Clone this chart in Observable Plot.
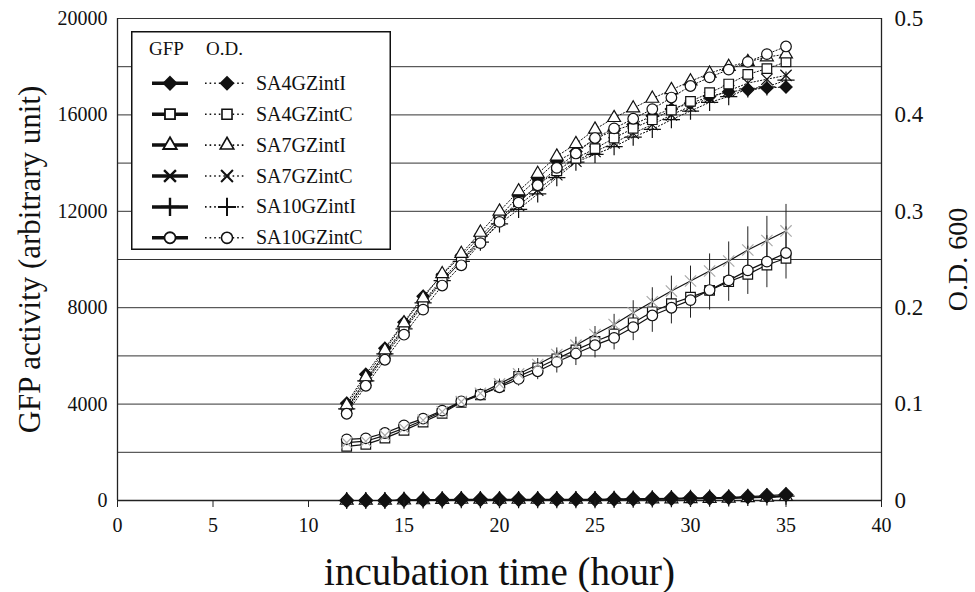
<!DOCTYPE html>
<html><head><meta charset="utf-8">
<script src="https://cdn.jsdelivr.net/npm/d3@7"></script>
<script src="https://cdn.jsdelivr.net/npm/@observablehq/plot@0.6"></script>
<style>
body{margin:0;background:#fff;}
#wrap{position:relative;width:975px;height:592px;font-family:"Liberation Serif",serif;}
#wrap svg text{font-family:"Liberation Serif",serif;}
#legend{position:absolute;left:131px;top:31px;}
</style></head><body><div id="wrap"></div>
<script>
const hours = [12,13,14,15,16,17,18,19,20,21,22,23,24,25,26,27,28,29,30,31,32,33,34,35];
const series = ["SA4GZintI","SA4GZintC","SA7GZintI","SA7GZintC","SA10GZintI","SA10GZintC"];

// GFP activity (arbitrary unit)
const gfp_SA4GZintI  = [0,0,0,20,30,40,50,50,50,50,50,50,50,50,60,70,80,90,100,110,130,160,200,240];
const gfp_SA4GZintC  = [2245,2330,2590,2910,3256,3617,4075,4380,4750,5150,5500,5880,6250,6600,6916,7373,7830,8164,8440,8718,9078,9384,9771,10050];
const gfp_SA7GZintI  = [0,0,0,10,20,30,40,40,40,40,40,40,40,40,40,50,60,60,70,80,90,110,130,160];
const gfp_SA7GZintC  = [2400,2460,2700,3000,3330,3680,4100,4450,4838,5252,5641,6056,6445,6888,7304,7790,8248,8690,9106,9522,9938,10395,10790,11185];
const gfp_SA10GZintI = [0,0,0,10,20,30,40,40,40,40,40,40,40,40,50,60,70,80,90,100,110,130,150,180];
const gfp_SA10GZintC = [2536,2578,2800,3118,3395,3728,4116,4393,4698,5044,5364,5750,6100,6445,6750,7193,7678,7997,8316,8732,9134,9550,9910,10270];

// GFP error (SD)
const err_SA7GZintC  = [80,80,100,100,120,140,160,180,200,220,250,275,330,330,420,500,580,620,620,710,790,960,1000,1100];
const err_SA10GZintC = [80,80,100,100,120,140,160,200,250,300,350,460,500,530,500,560,700,670,750,830,870,1000,1080,1080];

// O.D. 600
const od_SA4GZintI  = [0.101,0.131,0.158,0.185,0.212,0.234,0.254,0.274,0.294,0.316,0.334,0.352,0.362,0.375,0.384,0.390,0.399,0.406,0.412,0.419,0.424,0.426,0.428,0.429];
const od_SA4GZintC  = [0.093,0.122,0.150,0.176,0.203,0.227,0.248,0.270,0.292,0.310,0.327,0.342,0.355,0.365,0.376,0.386,0.395,0.405,0.414,0.423,0.432,0.442,0.448,0.455];
const od_SA7GZintI  = [0.099,0.128,0.156,0.184,0.210,0.235,0.256,0.278,0.300,0.321,0.339,0.357,0.370,0.385,0.397,0.407,0.417,0.426,0.435,0.443,0.450,0.455,0.460,0.463];
const od_SA7GZintC  = [0.096,0.125,0.153,0.180,0.206,0.230,0.250,0.271,0.291,0.306,0.322,0.338,0.352,0.362,0.371,0.381,0.390,0.400,0.409,0.418,0.425,0.433,0.437,0.441];
const od_SA10GZintI = [0.095,0.124,0.152,0.178,0.205,0.228,0.248,0.268,0.287,0.302,0.318,0.335,0.351,0.359,0.367,0.377,0.385,0.395,0.404,0.413,0.419,0.427,0.429,0.436];
const od_SA10GZintC = [0.090,0.119,0.146,0.172,0.198,0.223,0.244,0.267,0.289,0.309,0.327,0.345,0.360,0.376,0.386,0.396,0.406,0.418,0.430,0.439,0.447,0.455,0.463,0.471];

const xTicks = [0,5,10,15,20,25,30,35,40];
const leftTicks = [0,4000,8000,12000,16000,20000];
const rightTicks = [0,0.1,0.2,0.3,0.4,0.5];
const gridValues = [0,2000,4000,6000,8000,10000,12000,14000,16000,18000,20000];

const gfpMax = 20000, odMax = 0.5, k = gfpMax / odMax;
const FONT = '"Liberation Serif", serif';

const gfp = {SA4GZintI:gfp_SA4GZintI,SA4GZintC:gfp_SA4GZintC,SA7GZintI:gfp_SA7GZintI,SA7GZintC:gfp_SA7GZintC,SA10GZintI:gfp_SA10GZintI,SA10GZintC:gfp_SA10GZintC};
const od = {SA4GZintI:od_SA4GZintI,SA4GZintC:od_SA4GZintC,SA7GZintI:od_SA7GZintI,SA7GZintC:od_SA7GZintC,SA10GZintI:od_SA10GZintI,SA10GZintC:od_SA10GZintC};
const err = {SA7GZintC:err_SA7GZintC,SA10GZintC:err_SA10GZintC};

const sty = {
  SA4GZintI:{symbol:"diamond2", fill:"#111", stroke:"#111", r:5.5},
  SA4GZintC:{symbol:"square", fill:"#fff", stroke:"#111", r:5.4},
  SA7GZintI:{symbol:"triangle", fill:"#fff", stroke:"#111", r:4.8},
  SA7GZintC:{symbol:"times", fill:"none", stroke:"#111", r:5.2},
  SA10GZintI:{symbol:"plus", fill:"none", stroke:"#111", r:5.6},
  SA10GZintC:{symbol:"circle", fill:"#fff", stroke:"#111", r:5.3}
};

const rows = series.flatMap(s => hours.map((h, i) => ({
  series: s, hour: h, gfp: gfp[s][i], od: od[s][i] * k, err: err[s] ? err[s][i] : 0
})));

const odOrder = ["SA7GZintC","SA10GZintI","SA4GZintI","SA4GZintC","SA7GZintI","SA10GZintC"];
const gfpOrder = ["SA7GZintI","SA10GZintI","SA4GZintI","SA4GZintC","SA10GZintC","SA7GZintC"];

const dotMarks = (order, key, gfpMode) => order.map(s => {
  const st = sty[s];
  const stroke = (gfpMode && s === "SA7GZintC") ? "#aaa" : st.stroke;
  const r = (gfpMode && s === "SA4GZintI") ? 6.3 : st.r;
  return Plot.dot(rows.filter(d => d.series === s), {
    x: "hour", y: key, symbol: () => st.symbol, r,
    fill: st.fill, stroke, strokeWidth: 1.2
  });
});

const chart = Plot.plot({
  width: 975, height: 592,
  marginLeft: 117, marginRight: 94, marginTop: 18, marginBottom: 92,
  x: {domain: [0, 40]},
  y: {domain: [0, gfpMax]},
  symbol: {type: "identity"},
  style: {fontFamily: FONT, background: "#fff", color: "#111"},
  marks: [
    Plot.ruleY(gridValues, {stroke: "#333", strokeWidth: 1}),
    Plot.ruleY([0], {stroke: "#222", strokeWidth: 1.6}),
    Plot.ruleX([0, 40], {stroke: "#222", strokeWidth: 1.3}),
    Plot.line(rows, {x: "hour", y: "od", z: "series", stroke: "#111", strokeWidth: 1, strokeDasharray: "1.3,2"}),
    Plot.ruleX(rows.filter(d => d.err > 0), {x: "hour", y1: d => d.gfp - d.err, y2: d => d.gfp + d.err, stroke: "#222", strokeWidth: 1}),
    Plot.line(rows, {x: "hour", y: "gfp", z: "series", stroke: "#111", strokeWidth: 1.2}),
    ...dotMarks(odOrder, "od", false),
    ...dotMarks(gfpOrder, "gfp", true),
    Plot.axisX(xTicks, {tickSize: 7, tickPadding: 10, fontSize: 20, fontFamily: FONT, label: null, stroke: "#222", tickFormat: d => String(d)}),
    Plot.axisY(leftTicks, {anchor: "left", tickSize: 0, tickPadding: 10, fontSize: 20, fontFamily: FONT, label: null, tickFormat: d => String(d)}),
    Plot.axisY(rightTicks.map(v => v * k), {anchor: "right", tickSize: 0, tickPadding: 13, fontSize: 23, fontFamily: FONT, label: null,
      tickFormat: d => String(Math.round(d / k * 10) / 10)}),
    Plot.text(["GFP activity (arbitrary unit)"], {text: d => d, frameAnchor: "left", textAnchor: "middle", lineAnchor: "middle", dx: -87, rotate: -90, fontSize: 31, fontFamily: FONT, fill: "#111"}),
    Plot.text(["O.D. 600"], {text: d => d, frameAnchor: "right", textAnchor: "middle", lineAnchor: "middle", dx: 77, rotate: -90, fontSize: 28, fontFamily: FONT, fill: "#111"}),
    Plot.text(["incubation time (hour)"], {text: d => d, frameAnchor: "bottom", lineAnchor: "middle", dy: 72, fontSize: 39, fontFamily: FONT, fill: "#111"})
  ]
});
document.getElementById("wrap").appendChild(chart);

// Legend
const W = 260, H = 219;
const lg = d3.select("#wrap").append("svg").attr("id", "legend").attr("width", W).attr("height", H)
  .attr("font-family", FONT);
lg.append("rect").attr("x", 0.75).attr("y", 0.75).attr("width", W - 1.5).attr("height", H - 1.5)
  .attr("fill", "#fff").attr("stroke", "#111").attr("stroke-width", 1.5);
lg.append("text").attr("x", 18).attr("y", 24).attr("font-size", 19).attr("font-family", FONT).attr("fill", "#111").text("GFP");
lg.append("text").attr("x", 75).attr("y", 24).attr("font-size", 19).attr("font-family", FONT).attr("fill", "#111").text("O.D.");
const symMap = {diamond2: d3.symbolDiamond2, square: d3.symbolSquare, triangle: d3.symbolTriangle, times: d3.symbolTimes, plus: d3.symbolPlus, circle: d3.symbolCircle};
series.forEach((s, i) => {
  const cy = 52.3 + i * 30.9;
  const st = sty[s];
  const path = d3.symbol(symMap[st.symbol], st.r * st.r * Math.PI * 1.1)();
  lg.append("line").attr("x1", 21).attr("x2", 57).attr("y1", cy).attr("y2", cy).attr("stroke", "#111").attr("stroke-width", 3.5);
  lg.append("path").attr("d", path).attr("transform", `translate(39,${cy})`)
    .attr("fill", st.fill).attr("stroke", "#111").attr("stroke-width", st.fill === "none" ? 2.4 : 1.8);
  lg.append("line").attr("x1", 74).attr("x2", 114).attr("y1", cy).attr("y2", cy).attr("stroke", "#111").attr("stroke-width", 1.6).attr("stroke-dasharray", "1.6,3");
  lg.append("path").attr("d", path).attr("transform", `translate(96,${cy})`)
    .attr("fill", st.fill).attr("stroke", "#111").attr("stroke-width", st.fill === "none" ? 2 : 1.6);
  lg.append("text").attr("x", 125).attr("y", cy + 6.5).attr("font-size", 20).attr("font-family", FONT).attr("fill", "#111").text(s);
});
</script></body></html>
